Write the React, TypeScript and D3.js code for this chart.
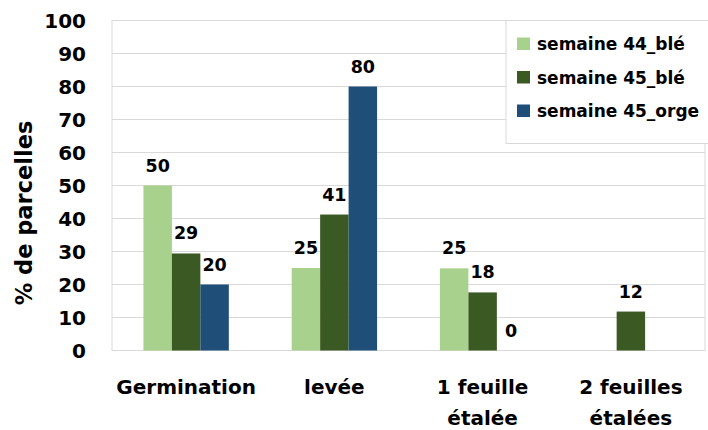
import React from "react";
import * as d3 from "d3";

const categories = ["Germination", "levée", "1 feuille\nétalée", "2 feuilles\nétalées"];
const seriesNames = ["semaine 44_blé", "semaine 45_blé", "semaine 45_orge"];
const sem44Ble = [50, 25, 24.9, null];
const sem45Ble = [29.4, 41.2, 17.6, 11.8];
const sem45Orge = [20, 80, 0, null];
const seriesColors = ["#A9D18E", "#3B5923", "#1F4E79"];
const yTicks = [0, 10, 20, 30, 40, 50, 60, 70, 80, 90, 100];

const W = 708;
const H = 430;
const margin = { top: 20.5, right: 3, bottom: 79.5, left: 112 };
const FONT = "'DejaVu Sans', sans-serif";

export default function App() {
  const values = [sem44Ble, sem45Ble, sem45Orge];
  const innerW = W - margin.left - margin.right;
  const innerH = H - margin.top - margin.bottom;

  const x = d3
    .scaleBand()
    .domain(categories)
    .range([margin.left, margin.left + innerW])
    .paddingInner(0.424)
    .paddingOuter(0.212);
  const xs = d3.scaleBand().domain(seriesNames).range([0, x.bandwidth()]);
  const y = d3.scaleLinear().domain([0, 100]).range([margin.top + innerH, margin.top]);

  return (
    <svg
      width={W}
      height={H}
      style={{ position: "absolute", left: 0, top: 0, background: "#fff" }}
      fontFamily={FONT}
      fontWeight="bold"
    >
      {/* grid */}
      {yTicks.map((t) => (
        <line key={t} x1={margin.left} x2={margin.left + innerW} y1={y(t)} y2={y(t)} stroke="#D9D9D9" strokeWidth={1} />
      ))}
      <rect x={margin.left} y={margin.top} width={innerW} height={innerH} fill="none" stroke="#D9D9D9" strokeWidth={1} />

      {/* y ticks */}
      {yTicks.map((t) => (
        <text key={t} x={86} y={y(t) + 7.5} textAnchor="end" fontSize={20} fill="#000">
          {t}
        </text>
      ))}
      <text transform={`translate(32, 213) rotate(-90)`} textAnchor="middle" fontSize={22.5} fill="#000">
        % de parcelles
      </text>

      {/* bars */}
      {values.map((vals, si) =>
        vals.map((v, ci) => {
          if (v === null) return null;
          const bx = (x(categories[ci]) ?? 0) + (xs(seriesNames[si]) ?? 0);
          return (
            <g key={`${si}-${ci}`}>
              <rect x={bx} y={y(v)} width={xs.bandwidth()} height={y(0) - y(v)} fill={seriesColors[si]} />
              <text x={bx + xs.bandwidth() / 2} y={y(v) - 14} textAnchor="middle" fontSize={17.5} fill="#000">
                {d3.format(".0f")(v)}
              </text>
            </g>
          );
        })
      )}

      {/* category labels */}
      {categories.map((c) => (
        <text key={c} textAnchor="middle" fontSize={20} fill="#000">
          {c.split("\n").map((line, i) => (
            <tspan key={i} x={(x(c) ?? 0) + x.bandwidth() / 2} y={394 + i * 31}>
              {line}
            </tspan>
          ))}
        </text>
      ))}

      {/* legend */}
      <rect x={506} y={20.5} width={210} height={123} fill="#fff" stroke="#D9D9D9" strokeWidth={1} />
      {seriesNames.map((s, i) => (
        <g key={s}>
          <rect x={517} y={37.5 + i * 33.5} width={13} height={12.5} fill={seriesColors[i]} />
          <text x={537} y={50 + i * 33.5} fontSize={17} fill="#000">
            {s}
          </text>
        </g>
      ))}
    </svg>
  );
}
